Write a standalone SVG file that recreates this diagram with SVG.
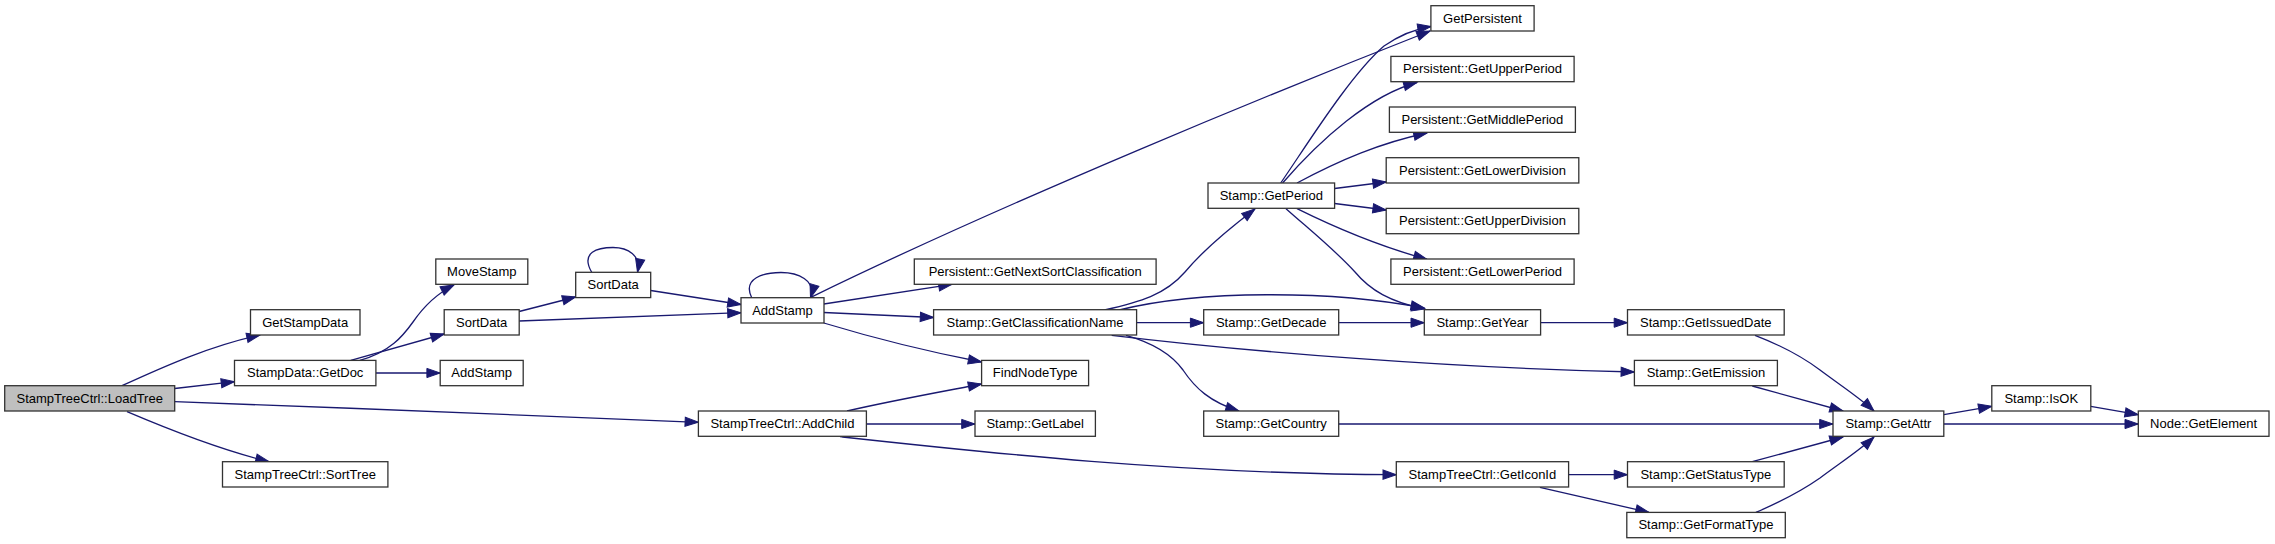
<svg xmlns="http://www.w3.org/2000/svg" width="2275" height="544" viewBox="0 0 2275 544">
<style>
.n rect{fill:#ffffff;stroke:#333333;stroke-width:1.3}
.n.root rect{fill:#bfbfbf}
.n text{font-family:"Liberation Sans",Arial,sans-serif;font-size:13px;fill:#000000;text-anchor:middle}
.e path{fill:none;stroke:#191970;stroke-width:1.3;marker-end:url(#a)}
</style>
<defs>
<marker id="a" markerUnits="userSpaceOnUse" markerWidth="14" markerHeight="10" viewBox="0 0 14 10" refX="13.3" refY="5" orient="auto" overflow="visible">
<path d="M0,0.4 L13.3,5 L0,9.6 Z" fill="#191970" stroke="#191970" stroke-width="1"/>
</marker>
</defs>
<rect width="2275" height="544" fill="#ffffff"/>
<g id="edges" class="e">
<path d="M122,385.7 C165,366 210,346 260,335"/>
<path d="M174.7,388.5 L234.5,381.7"/>
<path d="M174.7,401.7 C350,408 550,416 698.4,422.3"/>
<path d="M127,411.7 C170,430 220,450 269,461.7"/>
<path d="M359.9,360.4 C390,352 403,336 413,322 C424,306 438,293 454,285"/>
<path d="M350.8,360.4 L444.2,334"/>
<path d="M375.9,373 L440.2,373"/>
<path d="M519.1,311.5 L575.7,297"/>
<path d="M519.1,321 C600,318 680,315 741,312.7"/>
<path d="M591.7,272.3 C580,252 598,247.5 613,247.5 C628,247.5 641,255 637.5,272.3"/>
<path d="M650.7,290.5 L741,304.5"/>
<path d="M751.7,297.7 C742,278 764,272.5 781,272.5 C798,272.5 816,280 810.5,297.7"/>
<path d="M810.8,297.3 C1010,200 1280,90 1430,31"/>
<path d="M823.8,304 L952,284.3"/>
<path d="M823.8,312.5 L933.6,317.5"/>
<path d="M823.8,323 C880,340 930,352 981.6,362"/>
<path d="M847,411 C890,401 940,392 981.6,384"/>
<path d="M866.4,424 L975,424"/>
<path d="M840,436.7 C980,452 1180,474 1396.3,474.7"/>
<path d="M1104.5,310 C1140,302 1165,295 1185,272 C1205,248 1230,228 1255,209"/>
<path d="M1119,310 C1200,290 1330,290 1424.3,308"/>
<path d="M1136.5,322.7 L1203.7,322.7"/>
<path d="M1111.7,335.3 C1250,352 1450,368 1634.4,372"/>
<path d="M1126,335.3 C1150,342 1170,352 1183,370 C1195,388 1210,402 1239,411"/>
<path d="M1280.7,183 C1305,148 1350,75 1384,46 C1400,35 1415,29 1431,26.5"/>
<path d="M1282.6,183 C1320,140 1370,95 1417,82.5"/>
<path d="M1297,183 C1340,160 1380,143 1427,133"/>
<path d="M1334.6,188.5 L1386.2,182"/>
<path d="M1334.6,203.5 L1386.2,210"/>
<path d="M1297,208.7 C1340,230 1385,248 1427,259.3"/>
<path d="M1286,208.7 C1310,230 1335,250 1355,272 C1370,290 1390,302 1425,309"/>
<path d="M1338.6,322.7 L1424.3,322.7"/>
<path d="M1540.6,322.7 L1627.5,322.7"/>
<path d="M1755,335.3 C1780,345 1800,355 1820,370 C1840,385 1860,398 1874,411"/>
<path d="M1752.3,386 L1843.1,411"/>
<path d="M1338.6,424 L1833,424"/>
<path d="M1752.3,461.7 L1843.1,437"/>
<path d="M1755.9,512.4 C1780,502 1800,492 1820,478 C1840,463 1860,450 1874,437"/>
<path d="M1568.6,474.7 L1627.5,474.7"/>
<path d="M1539.9,487.3 L1649,512.4"/>
<path d="M1943.8,414.7 L1991.8,406.3"/>
<path d="M1943.8,424 L2138.3,424"/>
<path d="M2090.7,406.3 L2138.3,414.7"/>
</g>
<g id="n_LoadTree" class="n root"><rect x="4.7" y="385.7" width="170" height="25.3"/><text x="89.7" y="402.7">StampTreeCtrl::LoadTree</text></g>
<g id="n_GetStampData" class="n"><rect x="250.5" y="309.7" width="109.5" height="25.3"/><text x="305.2" y="326.7">GetStampData</text></g>
<g id="n_GetDoc" class="n"><rect x="234.5" y="360.4" width="141.4" height="25.3"/><text x="305.2" y="377.4">StampData::GetDoc</text></g>
<g id="n_SortTree" class="n"><rect x="222.5" y="461.7" width="165.4" height="25.3"/><text x="305.2" y="478.7">StampTreeCtrl::SortTree</text></g>
<g id="n_MoveStamp" class="n"><rect x="435.8" y="259" width="92" height="25.3"/><text x="481.8" y="276">MoveStamp</text></g>
<g id="n_SortData1" class="n"><rect x="444.2" y="309.7" width="75" height="25.3"/><text x="481.7" y="326.7">SortData</text></g>
<g id="n_AddStamp1" class="n"><rect x="440.2" y="360.4" width="83" height="25.3"/><text x="481.7" y="377.4">AddStamp</text></g>
<g id="n_SortData2" class="n"><rect x="575.7" y="272.3" width="75" height="25.3"/><text x="613.2" y="289.3">SortData</text></g>
<g id="n_AddStamp2" class="n"><rect x="741" y="297.7" width="83" height="25.3"/><text x="782.5" y="314.7">AddStamp</text></g>
<g id="n_AddChild" class="n"><rect x="698.4" y="411" width="168" height="25.3"/><text x="782.4" y="428">StampTreeCtrl::AddChild</text></g>
<g id="n_GetNextSort" class="n"><rect x="914.3" y="259" width="241.8" height="25.3"/><text x="1035.2" y="276">Persistent::GetNextSortClassification</text></g>
<g id="n_GetClassName" class="n"><rect x="933.6" y="309.7" width="203" height="25.3"/><text x="1035.1" y="326.7">Stamp::GetClassificationName</text></g>
<g id="n_FindNodeType" class="n"><rect x="981.6" y="360.4" width="107" height="25.3"/><text x="1035.1" y="377.4">FindNodeType</text></g>
<g id="n_GetLabel" class="n"><rect x="975" y="411" width="120.4" height="25.3"/><text x="1035.2" y="428">Stamp::GetLabel</text></g>
<g id="n_GetPeriod" class="n"><rect x="1208" y="183" width="126.6" height="25.3"/><text x="1271.3" y="200">Stamp::GetPeriod</text></g>
<g id="n_GetDecade" class="n"><rect x="1203.7" y="309.7" width="135" height="25.3"/><text x="1271.2" y="326.7">Stamp::GetDecade</text></g>
<g id="n_GetCountry" class="n"><rect x="1203.7" y="411" width="135" height="25.3"/><text x="1271.2" y="428">Stamp::GetCountry</text></g>
<g id="n_GetPersistent" class="n"><rect x="1430.9" y="5.7" width="103.2" height="25.3"/><text x="1482.5" y="22.7">GetPersistent</text></g>
<g id="n_GetUpperPeriod" class="n"><rect x="1390.9" y="56.4" width="183.2" height="25.3"/><text x="1482.5" y="73.4">Persistent::GetUpperPeriod</text></g>
<g id="n_GetMiddlePeriod" class="n"><rect x="1389.4" y="107" width="186" height="25.3"/><text x="1482.4" y="124">Persistent::GetMiddlePeriod</text></g>
<g id="n_GetLowerDivision" class="n"><rect x="1386.2" y="157.7" width="192.6" height="25.3"/><text x="1482.5" y="174.7">Persistent::GetLowerDivision</text></g>
<g id="n_GetUpperDivision" class="n"><rect x="1386.2" y="208.4" width="192.6" height="25.3"/><text x="1482.5" y="225.4">Persistent::GetUpperDivision</text></g>
<g id="n_GetLowerPeriod" class="n"><rect x="1390.9" y="259" width="183.2" height="25.3"/><text x="1482.5" y="276">Persistent::GetLowerPeriod</text></g>
<g id="n_GetYear" class="n"><rect x="1424.3" y="309.7" width="116.3" height="25.3"/><text x="1482.4" y="326.7">Stamp::GetYear</text></g>
<g id="n_GetIconId" class="n"><rect x="1396.3" y="461.7" width="172.3" height="25.3"/><text x="1482.4" y="478.7">StampTreeCtrl::GetIconId</text></g>
<g id="n_GetIssuedDate" class="n"><rect x="1627.5" y="309.7" width="156.7" height="25.3"/><text x="1705.8" y="326.7">Stamp::GetIssuedDate</text></g>
<g id="n_GetEmission" class="n"><rect x="1634.4" y="360.4" width="143" height="25.3"/><text x="1705.9" y="377.4">Stamp::GetEmission</text></g>
<g id="n_GetStatusType" class="n"><rect x="1627.5" y="461.7" width="156.7" height="25.3"/><text x="1705.8" y="478.7">Stamp::GetStatusType</text></g>
<g id="n_GetFormatType" class="n"><rect x="1626.8" y="512.4" width="158.5" height="25.3"/><text x="1706" y="529.4">Stamp::GetFormatType</text></g>
<g id="n_GetAttr" class="n"><rect x="1833" y="411" width="110.8" height="25.3"/><text x="1888.4" y="428">Stamp::GetAttr</text></g>
<g id="n_IsOK" class="n"><rect x="1991.8" y="385.7" width="99" height="25.3"/><text x="2041.3" y="402.7">Stamp::IsOK</text></g>
<g id="n_GetElement" class="n"><rect x="2138.3" y="411" width="130.7" height="25.3"/><text x="2203.6" y="428">Node::GetElement</text></g>
</svg>
